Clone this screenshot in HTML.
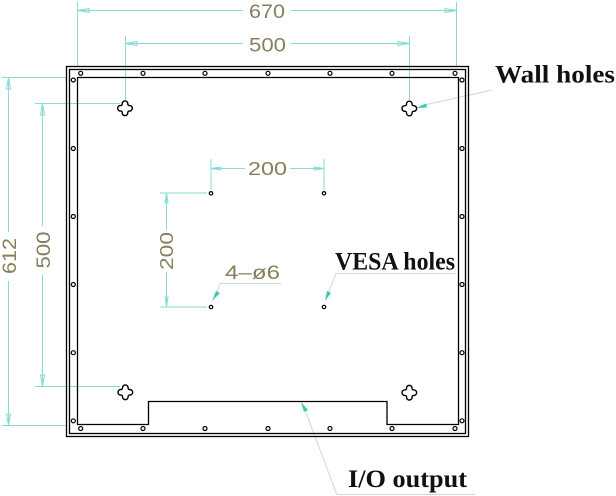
<!DOCTYPE html>
<html><head><meta charset="utf-8"><style>
html,body{margin:0;padding:0;background:#fff;}
svg{display:block;}
</style></head><body>
<svg width="616" height="496" viewBox="0 0 616 496" xmlns="http://www.w3.org/2000/svg">
<defs>
<path id="wh" d="M -2.79,-4.3 A 2.8 2.8 0 1 1 2.79,-4.3 A 1.41 1.41 0 0 0 4.3,-2.79 A 2.8 2.8 0 1 1 4.3,2.79 A 1.41 1.41 0 0 0 2.79,4.3 A 2.8 2.8 0 1 1 -2.79,4.3 A 1.41 1.41 0 0 0 -4.3,2.79 A 2.8 2.8 0 1 1 -4.3,-2.79 A 1.41 1.41 0 0 0 -2.79,-4.3 Z" fill="#fff" stroke="#000" stroke-width="1.4"/>
</defs>
<rect width="616" height="496" fill="#fff"/>

<!-- dimension lines -->
<g stroke="#86dcd2" stroke-width="1" fill="none">
  <line x1="77.5" y1="2" x2="77.5" y2="66"/>
  <line x1="456.5" y1="2" x2="456.5" y2="66"/>
  <line x1="77.5" y1="10.5" x2="243" y2="10.5"/>
  <line x1="291" y1="10.5" x2="456.5" y2="10.5"/>
  <polygon points="77.5,10.5 89,8.5 89,12.5"/>
  <polygon points="456.5,10.5 445,8.5 445,12.5"/>
  <line x1="125.5" y1="36" x2="125.5" y2="100"/>
  <line x1="409.5" y1="36" x2="409.5" y2="100"/>
  <line x1="125.5" y1="43.5" x2="243" y2="43.5"/>
  <line x1="291" y1="43.5" x2="409.5" y2="43.5"/>
  <polygon points="125.5,43.5 137,41.5 137,45.5"/>
  <polygon points="409.5,43.5 398,41.5 398,45.5"/>
  <line x1="2" y1="77.5" x2="66" y2="77.5"/>
  <line x1="2" y1="425.5" x2="66" y2="425.5"/>
  <line x1="8.5" y1="77.5" x2="8.5" y2="232"/>
  <line x1="8.5" y1="281" x2="8.5" y2="425.5"/>
  <polygon points="8.5,77.5 6.5,89 10.5,89"/>
  <polygon points="8.5,425.5 6.5,414 10.5,414"/>
  <line x1="35" y1="103.5" x2="120" y2="103.5"/>
  <line x1="35" y1="386.5" x2="120" y2="386.5"/>
  <line x1="42.5" y1="103.5" x2="42.5" y2="226"/>
  <line x1="42.5" y1="275" x2="42.5" y2="386.5"/>
  <polygon points="42.5,103.5 40.5,115 44.5,115"/>
  <polygon points="42.5,386.5 40.5,375 44.5,375"/>
  <line x1="211" y1="159" x2="211" y2="190"/>
  <line x1="324" y1="159" x2="324" y2="190"/>
  <line x1="211" y1="168.5" x2="245" y2="168.5"/>
  <line x1="290" y1="168.5" x2="324" y2="168.5"/>
  <polygon points="211,168.5 221,167 221,170"/>
  <polygon points="324,168.5 314,167 314,170"/>
  <line x1="160" y1="193" x2="207" y2="193"/>
  <line x1="160" y1="307" x2="207" y2="307"/>
  <line x1="166.5" y1="193" x2="166.5" y2="230"/>
  <line x1="166.5" y1="272" x2="166.5" y2="307"/>
  <polygon points="166.5,193 165,203 168,203"/>
  <polygon points="166.5,307 165,297 168,297"/>
</g>

<!-- leaders -->
<g stroke="#cfd6d6" stroke-width="1" fill="none">
  <line x1="420" y1="106" x2="492" y2="90"/>
  <line x1="328" y1="294" x2="336" y2="273"/>
  <line x1="336" y1="273.5" x2="456" y2="273.5"/>
  <line x1="217" y1="292" x2="220" y2="283.5"/>
  <line x1="220" y1="283.5" x2="281" y2="283.5"/>
  <line x1="305" y1="410" x2="337" y2="495"/>
  <line x1="337" y1="494.5" x2="475" y2="494.5"/>
</g>
<g fill="#3fc9b4" stroke="none">
  <polygon points="416,108 426,103.5 427,107.5"/>
  <polygon points="325,301 327,291 331,293"/>
  <polygon points="212,301 216,291 220,293"/>
  <polygon points="301,402 304,412 308,410"/>
</g>

<!-- frame -->
<g fill="none" stroke="#000" stroke-width="1.3">
  <rect x="66.5" y="66.5" width="402" height="370"/>
  <rect x="69.5" y="69.5" width="396" height="364"/>
  <path d="M77.5,77.5 H458.5 V424.5 H387 V401.5 H148.5 V424.5 H77.5 Z"/>
</g>

<!-- frame holes -->
<g fill="#fff" stroke="#000" stroke-width="1.2">
  <circle cx="80.7" cy="73.3" r="2"/><circle cx="143" cy="73.3" r="2"/><circle cx="205" cy="73.3" r="2"/><circle cx="268" cy="73.3" r="2"/><circle cx="330" cy="73.3" r="2"/><circle cx="392" cy="73.3" r="2"/><circle cx="455" cy="73.3" r="2"/>
  <circle cx="80.7" cy="428.5" r="2"/><circle cx="143" cy="428.5" r="2"/><circle cx="205" cy="428.5" r="2"/><circle cx="268" cy="428.5" r="2"/><circle cx="330" cy="428.5" r="2"/><circle cx="392" cy="428.5" r="2"/><circle cx="455" cy="428.5" r="2"/>
  <circle cx="73.3" cy="80" r="2"/><circle cx="73.3" cy="148.5" r="2"/><circle cx="73.3" cy="216.5" r="2"/><circle cx="73.3" cy="284.5" r="2"/><circle cx="73.3" cy="352.7" r="2"/><circle cx="73.3" cy="420.8" r="2"/>
  <circle cx="462" cy="80" r="2"/><circle cx="462" cy="148.5" r="2"/><circle cx="462" cy="216.5" r="2"/><circle cx="462" cy="284.5" r="2"/><circle cx="462" cy="352.7" r="2"/><circle cx="462" cy="420.8" r="2"/>
  <circle cx="211" cy="193.3" r="1.7"/><circle cx="324" cy="193.3" r="1.7"/><circle cx="211" cy="307" r="1.7"/><circle cx="324" cy="307" r="1.7"/>
</g>

<!-- wall holes -->
<use href="#wh" x="125" y="108.3"/>
<use href="#wh" x="409.3" y="108.5"/>
<use href="#wh" x="125.3" y="392.3"/>
<use href="#wh" x="409.3" y="392.7"/>

<!-- dimension text -->
<g font-family="Liberation Sans, sans-serif" font-size="19.5" fill="#86805e">
  <text x="249" y="18" textLength="36" lengthAdjust="spacingAndGlyphs">670</text>
  <text x="249" y="51.5" textLength="37" lengthAdjust="spacingAndGlyphs">500</text>
  <text x="248" y="175" textLength="39" lengthAdjust="spacingAndGlyphs" font-size="18.5">200</text>
  <text x="225" y="279" textLength="55" lengthAdjust="spacingAndGlyphs" font-size="19">4–ø6</text>
  <text x="0" y="0" transform="translate(16,256) rotate(-90)" text-anchor="middle" textLength="36" lengthAdjust="spacingAndGlyphs">612</text>
  <text x="0" y="0" transform="translate(50,250) rotate(-90)" text-anchor="middle" textLength="37" lengthAdjust="spacingAndGlyphs">500</text>
  <text x="0" y="0" transform="translate(173,251) rotate(-90)" text-anchor="middle" textLength="38" lengthAdjust="spacingAndGlyphs" font-size="18.5">200</text>
</g>

<!-- labels -->
<g font-family="Liberation Serif, serif" font-weight="bold" font-size="25" fill="#111">
  <text x="495" y="82.5" textLength="120" lengthAdjust="spacingAndGlyphs">Wall holes</text>
  <text x="335" y="269.5" textLength="120" lengthAdjust="spacingAndGlyphs">VESA holes</text>
  <text x="348" y="487" textLength="119" lengthAdjust="spacingAndGlyphs">I/O output</text>
</g>
</svg>
</body></html>
